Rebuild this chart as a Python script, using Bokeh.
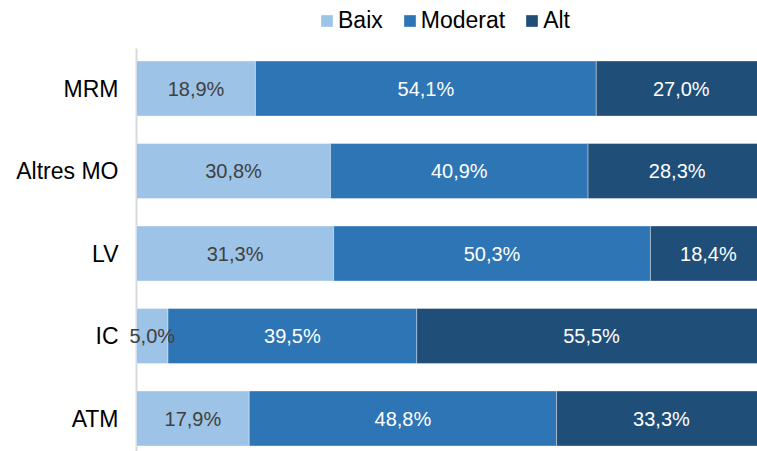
from bokeh.plotting import figure
from bokeh.models import ColumnDataSource, Legend, LegendItem, Range1d, FixedTicker
from bokeh.embed import file_html
from bokeh.resources import INLINE

categories = ["MRM", "Altres MO", "LV", "IC", "ATM"]
series = ["Baix", "Moderat", "Alt"]
baix = [18.9, 30.8, 31.3, 5.0, 17.9]
moderat = [54.1, 40.9, 50.3, 39.5, 48.8]
alt = [27.0, 28.3, 18.4, 55.5, 33.3]
colors = ["#9DC3E6", "#2E75B6", "#1F4E79"]
label_colors = ["#404040", "#FFFFFF", "#FFFFFF"]

FONT = "Liberation Sans"

ypos = [len(categories) - 1 - i for i in range(len(categories))]

src = ColumnDataSource(dict(y=ypos, Baix=baix, Moderat=moderat, Alt=alt))

Y0, Y1, AXIS_TOP = -0.4, 5.067, 4.485
p = figure(width=757, height=451, output_backend="svg", toolbar_location=None,
           x_range=Range1d(-1.27, 98.6), y_range=Range1d(Y0, Y1),
           min_border_left=128, min_border_right=0, min_border_top=0,
           min_border_bottom=0, outline_line_color=None)

# vertical category axis line at x = 0
p.segment(x0=[0], y0=[Y0], x1=[0], y1=[AXIS_TOP], line_color="#D9D9D9", line_width=2)

rs = p.hbar_stack(series, y="y", height=0.667, color=colors, source=src,
                  line_color="white", line_alpha=0.35, line_width=1)

# data labels
vals = [baix, moderat, alt]
for k, s in enumerate(series):
    xs, ys, txt = [], [], []
    for i in range(len(categories)):
        left = sum(vals[j][i] for j in range(k))
        xs.append(left + vals[k][i] / 2)
        ys.append(ypos[i])
        txt.append(f"{vals[k][i]:.1f}".replace(".", ",") + "%")
    ls = ColumnDataSource(dict(x=xs, y=ys, t=txt))
    p.text("x", "y", text="t", source=ls, text_align="center", text_baseline="middle",
           text_font={"value": FONT}, text_font_size="20px", text_color=label_colors[k])

p.xaxis.visible = False
p.xgrid.grid_line_color = None
p.ygrid.grid_line_color = None

ax = p.yaxis[0]
ax.ticker = FixedTicker(ticks=ypos)
ax.major_label_overrides = {ypos[i]: categories[i] for i in range(len(categories))}
ax.major_tick_line_color = None
ax.minor_tick_line_color = None
ax.axis_line_color = None
ax.major_label_text_font = FONT
ax.major_label_text_font_size = "23px"
ax.major_label_text_color = "#000000"
ax.major_label_standoff = 4

legend = Legend(items=[LegendItem(label=s, renderers=[r]) for s, r in zip(series, rs)],
                orientation="horizontal", location=(191, 417),
                glyph_width=15, glyph_height=15, label_standoff=4, spacing=19,
                padding=0, margin=0, border_line_color=None, background_fill_alpha=0,
                label_text_font=FONT, label_text_font_size="23px",
                label_text_color="#000000")
p.add_layout(legend)

open("out.html", "w").write(file_html(p, INLINE))
